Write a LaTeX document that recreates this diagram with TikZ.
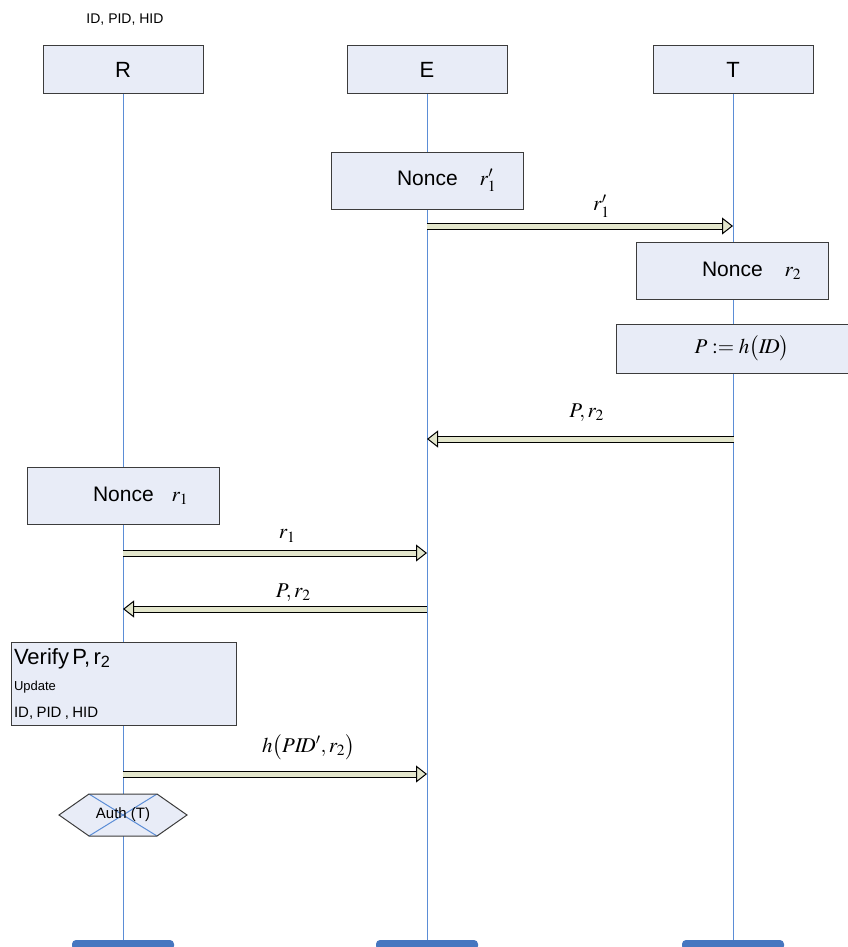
\documentclass[tikz,border=0pt]{standalone}
\usepackage{mathptmx}
\usepackage{fontspec}
\setmainfont{Liberation Sans}
\usetikzlibrary{arrows.meta, shapes.symbols}

\definecolor{BoxFill}{HTML}{E8ECF7}
\definecolor{BoxLine}{HTML}{3C3C3C}
\definecolor{LifeBlue}{HTML}{5B8DD6}
\definecolor{MsgFill}{HTML}{E3E6CC}
\definecolor{BarBlue}{HTML}{4677C0}

\newcommand{\setfs}[1]{\fontsize{#1}{#1}\selectfont}

\tikzset{
  act/.style={draw=BoxLine, fill=BoxFill, line width=1pt, inner sep=0},
  head/.style={act, minimum width=160, minimum height=48, font=\setfs{22}},
  nonce/.style={act, text width=184, inner xsep=4, align=left, minimum height=57, font=\setfs{21}},
  endbar/.style={fill=BarBlue, rounded corners=4, minimum width=102, minimum height=10, inner sep=0},
  life/.style={draw=LifeBlue, line width=1pt},
  msg/.style={line width=1pt, draw=black, double=MsgFill, double distance=5pt,
    -{Triangle[length=11pt, width=17pt, fill=MsgFill]}},
  lbl/.style={font=\setfs{21}, inner sep=0},
}

\begin{document}
\begin{tikzpicture}[x=1pt, y=-1pt]
\useasboundingbox (0,0) rectangle (848,947);

% lifeline heads and ends
\node[font=\setfs{14}] (ids) at (125,20) {ID, PID, HID};
\node[head] (hR) at (123,70) {R};
\node[head] (hE) at (427,70) {E};
\node[head] (hT) at (733,70) {T};
\node[endbar] (bR) at (123,945) {};
\node[endbar] (bE) at (427,945) {};
\node[endbar] (bT) at (733,945) {};
\foreach \a/\b in {hR/bR, hE/bE, hT/bT}
  \draw[life] (\a) -- (\b);

% activations
\node[nonce] (n1) at (427,180.5) {\hspace*{62pt}Nonce\hspace{22pt}{\setfs{21}$r_1^{\prime}$}};
\node[nonce] (n2) at (732,270.5) {\hspace*{62pt}Nonce\hspace{22pt}{\setfs{21}$r_2$}};
\node[act, minimum width=252, minimum height=49, font=\setfs{21}] (hash) at (742,348.5) {$P := h\bigl(I\!D\bigr)$};
\node[nonce] (n3) at (123,495.5) {\hspace*{62pt}Nonce\hspace{18pt}{\setfs{21}$r_1$}};
\node[act, text width=219, inner xsep=3, inner ysep=2, align=left, minimum height=83] (verify) at (123.5,683.5)
  {\fontsize{22}{26.5}\selectfont Verify P, r\textsubscript{2}\par
   \fontsize{13}{26.5}\selectfont Update\par
   \fontsize{15}{26.5}\selectfont ID, PID , HID\par};
\node[act, signal, signal to=west and east, signal pointer angle=70, minimum width=128, minimum height=42,
  font=\setfs{15},
  path picture={
    \draw[LifeBlue, line width=1pt] ([xshift=30]path picture bounding box.north west) -- ([xshift=-30]path picture bounding box.south east);
    \draw[LifeBlue, line width=1pt] ([xshift=-30]path picture bounding box.north east) -- ([xshift=30]path picture bounding box.south west);
  }] (auth) at (123,815) {Auth (T)};

% messages
\coordinate (m1a) at (427,226);
\coordinate (m1b) at (733,226);
\coordinate (m2a) at (734,439);
\coordinate (m2b) at (427,439);
\coordinate (m3a) at (123,553);
\coordinate (m3b) at (427,553);
\coordinate (m4a) at (427,609);
\coordinate (m4b) at (123,609);
\coordinate (m5a) at (123,774);
\coordinate (m5b) at (427,774);
\draw[msg] (m1a) -- node[lbl, pos=.57, yshift=20] {$r_1^{\prime}$} (m1b);
\draw[msg] (m2a) -- node[lbl, pos=.48, yshift=26] {$P, r_2$} (m2b);
\draw[msg] (m3a) -- node[lbl, pos=.54, yshift=17] {$r_1$} (m3b);
\draw[msg] (m4a) -- node[lbl, pos=.44, yshift=16] {$P, r_2$} (m4b);
\draw[msg] (m5a) -- node[lbl, pos=.61, yshift=27] {$h\bigl(PI\!D', r_2\bigr)$} (m5b);
\end{tikzpicture}
\end{document}
